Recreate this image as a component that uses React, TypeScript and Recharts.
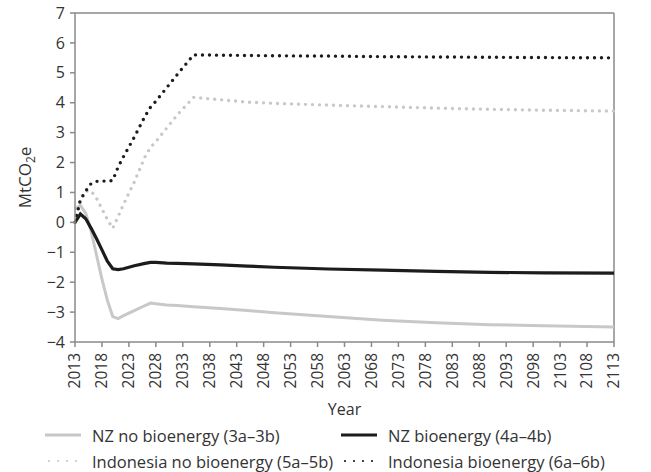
import React from 'react';
import { LineChart, Line, XAxis, YAxis, Label, ReferenceLine } from 'recharts';

const YEARS = [2013, 2014, 2015, 2016, 2017, 2018, 2019, 2020, 2021, 2022, 2024, 2026, 2027, 2028, 2030, 2032, 2035, 2040, 2045, 2050, 2060, 2070, 2080, 2090, 2100, 2113];
const NZ_NO_BIO = [0.45, 0.57, 0.3, -0.3, -1.1, -1.9, -2.6, -3.15, -3.22, -3.12, -2.95, -2.78, -2.7, -2.72, -2.76, -2.78, -2.82, -2.88, -2.95, -3.02, -3.15, -3.27, -3.36, -3.42, -3.46, -3.5];
const NZ_BIO = [0.0, 0.28, 0.12, -0.2, -0.55, -0.92, -1.3, -1.55, -1.58, -1.55, -1.45, -1.37, -1.34, -1.34, -1.36, -1.37, -1.39, -1.42, -1.46, -1.5, -1.56, -1.6, -1.64, -1.67, -1.69, -1.7];
const INDO_NO_BIO = [0.0, 0.8, 1.05, 1.05, 0.8, 0.45, 0.1, -0.2, 0.2, 0.6, 1.35, 2.2, 2.5, 2.7, 3.15, 3.6, 4.18, 4.1, 4.02, 3.98, 3.92, 3.87, 3.82, 3.78, 3.75, 3.72];
const INDO_BIO = [0.0, 0.75, 1.05, 1.3, 1.37, 1.38, 1.38, 1.4, 1.85, 2.2, 2.85, 3.55, 3.85, 4.05, 4.5, 4.95, 5.6, 5.59, 5.58, 5.57, 5.56, 5.54, 5.53, 5.52, 5.51, 5.5];

const X_TICKS = [2013, 2018, 2023, 2028, 2033, 2038, 2043, 2048, 2053, 2058, 2063, 2068, 2073, 2078, 2083, 2088, 2093, 2098, 2103, 2108, 2113];
const Y_TICKS = [-4, -3, -2, -1, 0, 1, 2, 3, 4, 5, 6, 7];

const data = YEARS.map((year, i) => ({
  year,
  nzNoBio: NZ_NO_BIO[i],
  nzBio: NZ_BIO[i],
  indoNoBio: INDO_NO_BIO[i],
  indoBio: INDO_BIO[i],
}));

const FONT = '"Open Sans", sans-serif';
const TEXT = '#333333';
const AXIS = '#8a8a8a';
const LIGHT = '#c8c8c8';
const DARK = '#1c1c1c';

const fmtY = (v: number) => (v < 0 ? `\u2212${Math.abs(v)}` : `${v}`);

const XTick = ({ x, y, payload }: any) => (
  <g transform={`translate(${x},${y})`}>
    <text transform="rotate(-90)" x={0} y={0} dy="0.35em" textAnchor="end" fill={TEXT} fontSize={15.5} fontFamily={FONT}>
      {payload.value}
    </text>
  </g>
);

const YLabel = ({ viewBox }: any) => {
  const cx = 25;
  const cy = viewBox.y + viewBox.height / 2;
  return (
    <text transform={`translate(${cx},${cy}) rotate(-90)`} textAnchor="middle" dy="0.35em" fill={TEXT} fontSize={17} fontFamily={FONT}>
      <tspan>MtCO</tspan>
      <tspan fontSize={12} dy={4}>2</tspan>
      <tspan dy={-4}>e</tspan>
    </text>
  );
};

const Swatch = ({ color, dotted }: { color: string; dotted: boolean }) => (
  <svg width={36} height={10} style={{ display: 'block' }}>
    {dotted ? (
      <line x1={4} y1={5} x2={34} y2={5} stroke={color} strokeWidth={2.2} strokeDasharray="0 9" strokeLinecap="round" />
    ) : (
      <line x1={0} y1={5} x2={36} y2={5} stroke={color} strokeWidth={3} />
    )}
  </svg>
);

const LegendItem = ({ left, top, color, dotted, text }: any) => (
  <div style={{ position: 'absolute', left, top, height: 20, display: 'flex', alignItems: 'center', fontFamily: FONT, fontSize: 16.5, color: TEXT, whiteSpace: 'nowrap' }}>
    <Swatch color={color} dotted={dotted} />
    <span style={{ marginLeft: 11 }}>{text}</span>
  </div>
);

export default function App() {
  return (
    <div style={{ position: 'absolute', left: 0, top: 0, width: 651, height: 472, background: '#fff' }}>
      <LineChart width={651} height={472} data={data} margin={{ top: 13, right: 37, left: 0, bottom: 50 }}>
        <XAxis
          dataKey="year"
          type="number"
          domain={[2013, 2113]}
          ticks={X_TICKS}
          interval={0}
          height={80}
          tick={<XTick />}
          tickSize={5}
          tickMargin={6}
          stroke={AXIS}
          strokeWidth={1.5}
        >
          <Label value="Year" position="insideBottom" offset={7} fill={TEXT} fontSize={16} fontFamily={FONT} />
        </XAxis>
        <YAxis
          domain={[-4, 7]}
          ticks={Y_TICKS}
          interval={0}
          width={75}
          tickSize={5}
          tickMargin={5}
          tickFormatter={fmtY}
          tick={{ fill: TEXT, fontSize: 16, fontFamily: FONT }}
          stroke={AXIS}
          strokeWidth={1.5}
        >
          <Label content={<YLabel />} />
        </YAxis>
        <ReferenceLine y={7} stroke={AXIS} strokeWidth={1.5} />
        <ReferenceLine x={2113} stroke={AXIS} strokeWidth={1.5} />
        <Line dataKey="nzNoBio" stroke={LIGHT} strokeWidth={3} dot={false} isAnimationActive={false} />
        <Line dataKey="nzBio" stroke={DARK} strokeWidth={3.2} dot={false} isAnimationActive={false} />
        <Line dataKey="indoNoBio" stroke={LIGHT} strokeWidth={3.4} strokeDasharray="0 7" strokeLinecap="round" dot={false} isAnimationActive={false} />
        <Line dataKey="indoBio" stroke={DARK} strokeWidth={3.4} strokeDasharray="0 7" strokeLinecap="round" dot={false} isAnimationActive={false} />
      </LineChart>
      <LegendItem left={45} top={425} color={LIGHT} dotted={false} text="NZ no bioenergy (3a–3b)" />
      <LegendItem left={341} top={425} color={DARK} dotted={false} text="NZ bioenergy (4a–4b)" />
      <LegendItem left={45} top={451} color={LIGHT} dotted={true} text="Indonesia no bioenergy (5a–5b)" />
      <LegendItem left={341} top={451} color={DARK} dotted={true} text="Indonesia bioenergy (6a–6b)" />
    </div>
  );
}
